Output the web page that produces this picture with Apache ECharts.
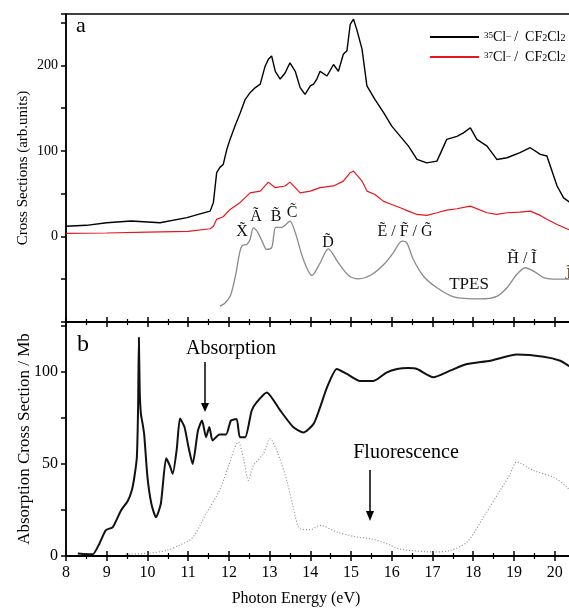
<!DOCTYPE html>
<html>
<head>
<meta charset="utf-8">
<script src="https://cdn.jsdelivr.net/npm/echarts@6/dist/echarts.min.js"></script>
<style>
    html, body { margin: 0; padding: 0; background: #fff; }
    #chart { width: 569px; height: 609px; }
</style>
</head>
<body>
<div id="chart"></div>
<script>
    // panel a: Cl- yields (arb. units)
    var cl35Energy = [8.0, 8.5, 9.0, 9.6, 10.31, 10.97, 11.27, 11.54, 11.62, 11.70, 11.78, 11.86, 11.95, 12.03, 12.15, 12.28, 12.40, 12.52, 12.65, 12.77, 12.89, 12.97, 13.05, 13.14, 13.26, 13.38, 13.50, 13.63, 13.75, 13.87, 14.0, 14.08, 14.16, 14.24, 14.41, 14.57, 14.69, 14.81, 14.90, 14.98, 15.06, 15.14, 15.27, 15.39, 15.59, 15.80, 16.0, 16.21, 16.41, 16.62, 16.86, 17.11, 17.35, 17.60, 17.76, 17.93, 18.09, 18.34, 18.58, 18.83, 19.15, 19.40, 19.65, 19.81, 20.06, 20.22, 20.34, 20.5];
    var cl35Value = [12, 13, 16, 18, 16, 22, 26, 29.6, 39.8, 74.5, 80.7, 84, 101.8, 113.5, 129, 144.7, 160, 168, 174, 178, 199, 207, 211, 193, 184, 191, 203, 193, 174, 166, 176, 178, 184, 193, 187.5, 201, 193, 213, 217, 248, 254, 242, 219, 176, 160, 144.7, 129, 117, 105.6, 90, 86, 88, 113.5, 117, 121, 127, 113.5, 105.6, 90, 92, 98, 103.7, 96, 94, 59, 45, 41, 35];

    var cl37Energy = [8.0, 9.0, 10.0, 11.0, 11.54, 11.62, 11.70, 11.86, 12.03, 12.28, 12.52, 12.77, 12.97, 13.14, 13.38, 13.50, 13.75, 14.0, 14.24, 14.57, 14.81, 14.98, 15.06, 15.27, 15.39, 15.59, 15.80, 16.0, 16.21, 16.41, 16.62, 16.86, 17.11, 17.35, 17.60, 17.93, 18.34, 18.58, 18.83, 19.15, 19.40, 19.65, 19.81, 20.06, 20.34, 20.5];
    var cl37Value = [3.5, 4, 5, 6, 9, 12, 20, 23, 31.6, 39.8, 51, 53, 63.5, 57, 59, 63.5, 51, 53, 57, 59, 64.7, 74.5, 76.4, 64.7, 53, 49, 41, 37.4, 33.6, 29.6, 25.7, 24.6, 27.7, 30.8, 32.4, 35.4, 27.7, 25.7, 27.7, 28.4, 29.6, 24.6, 20, 14, 8.2, 6];

    var tpesEnergy = [11.78, 11.9, 12.03, 12.12, 12.19, 12.26, 12.32, 12.44, 12.52, 12.60, 12.66, 12.72, 12.82, 12.93, 13.05, 13.10, 13.15, 13.30, 13.40, 13.50, 13.63, 13.83, 14.04, 14.24, 14.44, 14.69, 14.94, 15.18, 15.51, 15.84, 16.04, 16.25, 16.37, 16.53, 16.78, 17.11, 17.52, 18.17, 18.58, 18.83, 19.07, 19.28, 19.48, 19.73, 20.06, 20.5];
    var tpesValue = [-81.5, -78, -70, -55, -39, -20, -11, -9, -3.5, 10, 8, 4, -6, -15, -13, 0, 10.5, 10.5, 14, 18, 4.5, -27, -45.6, -31, -14.5, -31, -45.6, -49.5, -44.5, -31, -19, -5.5, -7.5, -27, -46.5, -60, -70.5, -73, -70, -60, -44.5, -36.6, -40.5, -48, -50, -50];

    // panel b: absorption (Mb) and fluorescence
    var absEnergy = [8.29, 8.5, 8.66, 8.82, 8.98, 9.15, 9.35, 9.52, 9.62, 9.68, 9.74, 9.77, 9.79, 9.81, 9.84, 9.88, 9.92, 10.0, 10.1, 10.21, 10.33, 10.46, 10.55, 10.62, 10.72, 10.80, 10.91, 11.0, 11.11, 11.24, 11.34, 11.44, 11.52, 11.60, 11.77, 11.93, 12.05, 12.19, 12.27, 12.40, 12.56, 12.68, 12.93, 13.26, 13.58, 13.83, 14.08, 14.24, 14.41, 14.65, 14.90, 15.22, 15.55, 15.88, 16.13, 16.40, 16.62, 17.02, 17.43, 17.85, 18.42, 19.07, 19.73, 20.14, 20.34, 20.5];
    var absValue = [1.3, 1, 1, 6.7, 14, 15.7, 24.7, 30, 36, 43, 53.6, 80, 118.6, 90, 77, 72, 66, 43, 28, 21, 28.5, 53, 49, 44.6, 58, 74.6, 70, 60, 50, 68, 73.5, 64.5, 70, 62.7, 66, 66, 73.5, 74.4, 64.5, 64.5, 79, 83.4, 88.8, 79, 70, 67, 71.7, 80.7, 91.5, 101.5, 98.8, 95, 95, 99.7, 101.5, 102, 101.5, 97, 100.6, 104.2, 106, 109.3, 108.2, 106, 103.3, 101];

    var fluoEnergy = [9.47, 10.0, 10.46, 10.8, 11.11, 11.44, 11.77, 12.01, 12.13, 12.23, 12.36, 12.48, 12.60, 12.85, 13.01, 13.18, 13.42, 13.58, 13.75, 14.0, 14.24, 14.65, 15.14, 15.47, 15.88, 16.16, 16.45, 17.02, 17.43, 17.85, 18.25, 18.66, 18.91, 19.07, 19.48, 19.97, 20.30, 20.5];
    var fluoValue = [1, 1.5, 3, 6, 10, 23, 35.6, 50, 58, 61.8, 52.8, 41, 49, 55.5, 63.6, 57, 41, 26.5, 14.8, 14.3, 16.6, 13, 10.3, 9.4, 6.7, 4, 3, 2.2, 3, 7.6, 21, 35.6, 44.6, 51, 46.4, 42.8, 37.4, 32];

    var xTicks = [8, 9, 10, 11, 12, 13, 14, 15, 16, 17, 18, 19, 20];

    function zip(xs, ys) {
        var out = [];
        for (var i = 0; i < xs.length; i++) out.push([xs[i], ys[i]]);
        return out;
    }

    var serif = 'Liberation Serif';
    var axisBlack = { color: '#000', width: 1.5 };

    function xAxisBase(gridIndex, opts) {
        var base = {
            type: 'value', gridIndex: gridIndex, min: 8, max: 20.5, interval: 1,
            axisLine: { show: true, onZero: false, lineStyle: axisBlack },
            axisTick: { show: true, inside: true, length: 5, lineStyle: axisBlack },
            minorTick: { show: true, splitNumber: 2, length: 3, lineStyle: { color: '#000', width: 1.2 } },
            axisLabel: { show: false },
            splitLine: { show: false }
        };
        return Object.assign(base, opts);
    }

    var chart = echarts.init(document.getElementById('chart'), null, { renderer: 'canvas' });

    var option = {
        backgroundColor: '#fff',
        animation: false,
        grid: [
            { left: 66, top: 14, width: 509, height: 308, show: true, borderColor: '#000', borderWidth: 1.5, outerBoundsMode: 'none', containLabel: false },
            { left: 66, top: 322, width: 509, height: 234, show: true, borderColor: '#000', borderWidth: 1.5, outerBoundsMode: 'none', containLabel: false }
        ],
        xAxis: [
            xAxisBase(0, { position: 'bottom' }),
            xAxisBase(1, { position: 'top' }),
            xAxisBase(1, {
                position: 'bottom',
                axisLabel: {
                    show: true, margin: 9, fontFamily: serif, fontSize: 16, color: '#000',
                    formatter: function (v) { return xTicks.indexOf(v) >= 0 ? String(v) : ''; }
                }
            }),
            xAxisBase(1, { position: 'bottom', axisTick: { show: true, inside: false, length: 5, lineStyle: axisBlack },
                minorTick: { show: true, splitNumber: 2, length: 3, lineStyle: { color: '#000', width: 1.2 } } })
        ],
        yAxis: [
            {
                type: 'value', gridIndex: 0, min: -100, max: 260, interval: 50,
                name: 'Cross Sections (arb.units)', nameLocation: 'middle', nameGap: 35, nameMoveOverlap: false,
                nameTextStyle: { fontFamily: serif, fontSize: 15, color: '#000' },
                axisLine: { show: true, lineStyle: axisBlack },
                axisTick: { show: true, length: 5, lineStyle: axisBlack },
                axisLabel: {
                    margin: 8, fontFamily: serif, fontSize: 14, color: '#000',
                    formatter: function (v) { return (v >= 0 && v % 100 === 0) ? String(v) : ''; }
                },
                splitLine: { show: false }
            },
            {
                type: 'value', gridIndex: 1, min: 0, max: 127, interval: 25,
                name: 'Absorption Cross Section / Mb', nameLocation: 'middle', nameGap: 33, nameMoveOverlap: false,
                nameTextStyle: { fontFamily: serif, fontSize: 17, color: '#000' },
                axisLine: { show: true, lineStyle: axisBlack },
                axisTick: { show: true, length: 5, lineStyle: axisBlack },
                axisLabel: {
                    margin: 8, fontFamily: serif, fontSize: 16, color: '#000',
                    formatter: function (v) { return (v % 50 === 0) ? String(v) : ''; }
                },
                splitLine: { show: false }
            }
        ],
        legend: {
            data: ['35Cl', '37Cl'],
            orient: 'vertical', left: 425, top: 25,
            icon: 'rect', itemWidth: 49, itemHeight: 2, itemGap: 6,
            textStyle: {
                fontFamily: serif, fontSize: 14, color: '#000', lineHeight: 12,
                rich: {
                    sup: { fontFamily: serif, fontSize: 9, verticalAlign: 'top', lineHeight: 12 },
                    sub: { fontFamily: serif, fontSize: 10, verticalAlign: 'bottom', lineHeight: 12 },
                    n: { fontFamily: serif, fontSize: 14, lineHeight: 12 }
                }
            },
            formatter: function (name) {
                var iso = name === '35Cl' ? '35' : '37';
                return '{sup|' + iso + '}{n|Cl}{sup|\u2013}{n| /  CF}{sub|2}{n|Cl}{sub|2}';
            }
        },
        series: [
            {
                name: '35Cl', type: 'line', xAxisIndex: 0, yAxisIndex: 0, showSymbol: false,
                lineStyle: { color: '#000', width: 1.4 }, itemStyle: { color: '#000' },
                data: zip(cl35Energy, cl35Value)
            },
            {
                name: '37Cl', type: 'line', xAxisIndex: 0, yAxisIndex: 0, showSymbol: false,
                lineStyle: { color: '#e8161c', width: 1.2 }, itemStyle: { color: '#e8161c' },
                data: zip(cl37Energy, cl37Value)
            },
            {
                name: 'TPES', type: 'line', xAxisIndex: 0, yAxisIndex: 0, showSymbol: false, smooth: 0.3,
                lineStyle: { color: '#8a8a8a', width: 1.3 },
                data: zip(tpesEnergy, tpesValue)
            },
            {
                name: 'Absorption', type: 'line', xAxisIndex: 2, yAxisIndex: 1, showSymbol: false, smooth: 0.2,
                lineStyle: { color: '#111', width: 2 },
                data: zip(absEnergy, absValue)
            },
            {
                name: 'Fluorescence', type: 'line', xAxisIndex: 2, yAxisIndex: 1, showSymbol: false, smooth: 0.3,
                lineStyle: { color: '#888', width: 1.1, type: [1, 2] },
                data: zip(fluoEnergy, fluoValue)
            }
        ],
        graphic: [
            { type: 'text', left: 76, top: 15, style: { text: 'a', font: '22px "Liberation Serif"', fill: '#000' } },
            { type: 'text', left: 77, top: 333, style: { text: 'b', font: '24px "Liberation Serif"', fill: '#000' } },
            // TPES state labels
            { type: 'text', x: 242, y: 232, style: { text: 'X\u0303', font: '16px "Liberation Serif"', fill: '#111', align: 'center', verticalAlign: 'middle' } },
            { type: 'text', x: 256, y: 217, style: { text: 'A\u0303', font: '16px "Liberation Serif"', fill: '#111', align: 'center', verticalAlign: 'middle' } },
            { type: 'text', x: 276, y: 217, style: { text: 'B\u0303', font: '16px "Liberation Serif"', fill: '#111', align: 'center', verticalAlign: 'middle' } },
            { type: 'text', x: 292, y: 213, style: { text: 'C\u0303', font: '16px "Liberation Serif"', fill: '#111', align: 'center', verticalAlign: 'middle' } },
            { type: 'text', x: 328, y: 243, style: { text: 'D\u0303', font: '16px "Liberation Serif"', fill: '#111', align: 'center', verticalAlign: 'middle' } },
            { type: 'text', x: 405, y: 232, style: { text: 'E\u0303 / F\u0303 / G\u0303', font: '16px "Liberation Serif"', fill: '#111', align: 'center', verticalAlign: 'middle' } },
            { type: 'text', x: 469, y: 285, style: { text: 'TPES', font: '17px "Liberation Serif"', fill: '#111', align: 'center', verticalAlign: 'middle' } },
            { type: 'text', x: 522, y: 259, style: { text: 'H\u0303 / I\u0303', font: '16px "Liberation Serif"', fill: '#111', align: 'center', verticalAlign: 'middle' } },
            { type: 'text', x: 565, y: 275, style: { text: 'J\u0303', font: '16px "Liberation Serif"', fill: '#5a3a1a', align: 'left', verticalAlign: 'middle' } },
            // panel b annotations
            { type: 'text', x: 231, y: 349, style: { text: 'Absorption', font: '20px "Liberation Serif"', fill: '#000', align: 'center', verticalAlign: 'middle' } },
            { type: 'line', shape: { x1: 205, y1: 362, x2: 205, y2: 404 }, style: { stroke: '#000', lineWidth: 1.5 } },
            { type: 'polygon', shape: { points: [[201, 403], [209, 403], [205, 412]] }, style: { fill: '#000' } },
            { type: 'text', x: 406, y: 453, style: { text: 'Fluorescence', font: '20px "Liberation Serif"', fill: '#000', align: 'center', verticalAlign: 'middle' } },
            { type: 'line', shape: { x1: 370, y1: 470, x2: 370, y2: 512 }, style: { stroke: '#000', lineWidth: 1.5 } },
            { type: 'polygon', shape: { points: [[366, 511], [374, 511], [370, 521]] }, style: { fill: '#000' } },
            // x axis title
            { type: 'text', x: 296, y: 599, style: { text: 'Photon Energy (eV)', font: '16px "Liberation Serif"', fill: '#000', align: 'center', verticalAlign: 'middle' } }
        ]
    };

    chart.setOption(option);
</script>
</body>
</html>
